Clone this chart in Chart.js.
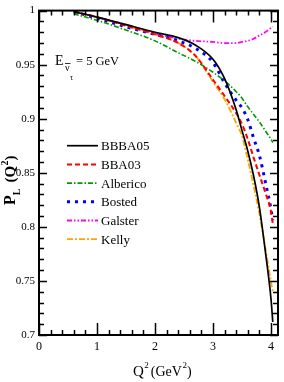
<!DOCTYPE html>
<html>
<head>
<meta charset="utf-8">
<script src="https://cdn.jsdelivr.net/npm/chart.js@4/dist/chart.umd.min.js"></script>
<style>
  html, body { margin: 0; padding: 0; background: #fff; }
  #wrap { width: 284px; height: 382px; }
</style>
</head>
<body>
<div id="wrap"><canvas id="plChart" width="284" height="382"></canvas></div>
<script>
// Q^2 grid (GeV^2) and P_L values
const q2 = [0.6, 1.0, 1.5, 2.0, 2.4, 2.7, 3.0, 3.2, 3.4, 3.5, 3.6, 3.7, 3.8, 3.9, 4.0, 4.03];
const bbba05   = [0.999, 0.994, 0.987, 0.980, 0.975, 0.968, 0.955, 0.937, 0.908, 0.889, 0.870, 0.847, 0.818, 0.778, 0.733, 0.712];
const bba03    = [0.999, 0.994, 0.986, 0.978, 0.970, 0.958, 0.936, 0.921, 0.905, 0.895, 0.881, 0.864, 0.848, 0.832, 0.814, 0.803];
const alberico = [0.997, 0.991, 0.982, 0.972, 0.961, 0.953, 0.943, 0.935, 0.925, 0.919, 0.911, 0.904, 0.897, 0.889, 0.881, 0.878];
const bosted   = [0.999, 0.993, 0.985, 0.978, 0.972, 0.965, 0.952, 0.933, 0.917, 0.910, 0.899, 0.882, 0.866, 0.842, 0.816, 0.806];
const galster  = [0.999, 0.994, 0.987, 0.979, 0.974, 0.972, 0.971, 0.970, 0.970, 0.971, 0.972, 0.974, 0.977, 0.980, 0.984, 0.985];
const kelly    = [0.999, 0.994, 0.986, 0.978, 0.970, 0.958, 0.934, 0.918, 0.896, 0.884, 0.862, 0.838, 0.812, 0.781, 0.749, 0.740];

const modelNames = ['BBBA05', 'BBA03', 'Alberico', 'Bosted', 'Galster', 'Kelly'];
const xTicks = [0, 1, 2, 3, 4];
const yTicks = [0.7, 0.75, 0.8, 0.85, 0.9, 0.95, 1];

const serif = "'Liberation Serif', 'DejaVu Serif', serif";

function pts(vals) {
  return vals.map((v, i) => ({ x: q2[i], y: v }));
}

const styles = [
  { borderColor: '#000000', borderWidth: 1.7, borderDash: [] },
  { borderColor: '#ff0000', borderWidth: 2, borderDash: [5, 3] },
  { borderColor: '#009a00', borderWidth: 1.6, borderDash: [5, 2, 1.5, 2] },
  { borderColor: '#0000ff', borderWidth: 3, borderDash: [3, 5] },
  { borderColor: '#ff00ff', borderWidth: 1.8, borderDash: [5, 2, 1.5, 2, 1.5, 2] },
  { borderColor: '#ffa500', borderWidth: 1.8, borderDash: [6, 2, 2, 2] }
];
const series = [bbba05, bba03, alberico, bosted, galster, kelly];

// frame, inward ticks, legend and labels with sub/superscripts
const decor = {
  id: 'decor',
  afterDraw(chart) {
    const { ctx, chartArea: a, scales: { x, y } } = chart;
    ctx.save();
    ctx.strokeStyle = '#000';
    ctx.lineWidth = 1.5;
    ctx.setLineDash([]);
    ctx.beginPath();
    for (let i = 0; i <= 20; i++) {
      const px = Math.round(x.getPixelForValue(i * 0.2)) + 0.5;
      const len = i % 5 === 0 ? 12 : 5;
      ctx.moveTo(px, a.bottom); ctx.lineTo(px, a.bottom - len);
      ctx.moveTo(px, a.top); ctx.lineTo(px, a.top + len);
    }
    for (let i = 0; i <= 30; i++) {
      const py = Math.round(y.getPixelForValue(0.7 + i * 0.01)) + 0.5;
      const len = i % 5 === 0 ? 8 : 5;
      ctx.moveTo(a.left, py); ctx.lineTo(a.left + len, py);
      ctx.moveTo(a.right, py); ctx.lineTo(a.right - len, py);
    }
    ctx.stroke();
    ctx.lineWidth = 2;
    ctx.strokeRect(a.left, a.top, a.right - a.left, a.bottom - a.top);

    // legend
    ctx.fillStyle = '#000';
    ctx.textBaseline = 'alphabetic';
    chart.data.datasets.forEach((ds, i) => {
      const ly = 145.7 + i * 18.7;
      ctx.beginPath();
      ctx.strokeStyle = ds.borderColor;
      ctx.lineWidth = ds.borderWidth;
      ctx.setLineDash(ds.borderDash);
      ctx.moveTo(67, ly); ctx.lineTo(98, ly);
      ctx.stroke();
      ctx.font = '13px ' + serif;
      ctx.fillText(ds.label, 101, ly + 4.5);
    });
    ctx.setLineDash([]);

    // energy label
    ctx.font = '14px ' + serif;
    ctx.fillText('E', 55, 65);
    ctx.font = '10px ' + serif;
    ctx.fillText('\u03bd', 65, 71);
    ctx.lineWidth = 0.8;
    ctx.strokeStyle = '#000';
    ctx.beginPath(); ctx.moveTo(65, 63.5); ctx.lineTo(70.5, 63.5); ctx.stroke();
    ctx.font = '8px ' + serif;
    ctx.fillText('\u03c4', 70, 80);
    ctx.font = '12.5px ' + serif;
    ctx.fillText('= 5 GeV', 76, 65);

    // x title
    let cx = 133;
    ctx.font = '15px ' + serif;
    ctx.fillText('Q', cx, 376); cx += ctx.measureText('Q').width + 0.5;
    ctx.font = '9px ' + serif;
    ctx.fillText('2', cx, 368); cx += ctx.measureText('2').width + 2;
    ctx.font = '14px ' + serif;
    ctx.fillText('(GeV', cx, 376); cx += ctx.measureText('(GeV').width + 0.5;
    ctx.font = '9px ' + serif;
    ctx.fillText('2', cx, 368); cx += ctx.measureText('2').width;
    ctx.font = '14px ' + serif;
    ctx.fillText(')', cx, 376);

    // y title
    ctx.translate(15, 205);
    ctx.rotate(-Math.PI / 2);
    let tx = 0;
    ctx.font = 'bold 16px ' + serif;
    ctx.fillText('P', tx, 0); tx += ctx.measureText('P').width;
    ctx.font = 'bold 10px ' + serif;
    ctx.fillText('L', tx, 5); tx += ctx.measureText('L').width + 6;
    ctx.font = 'bold 15px ' + serif;
    ctx.fillText('(Q', tx, 0); tx += ctx.measureText('(Q').width + 0.5;
    ctx.font = 'bold 10px ' + serif;
    ctx.fillText('2', tx, -7); tx += ctx.measureText('2').width;
    ctx.font = 'bold 15px ' + serif;
    ctx.fillText(')', tx, 0);
    ctx.restore();
  }
};

const ctx = document.getElementById('plChart').getContext('2d');
const plChart = new Chart(ctx, {
  type: 'line',
  data: {
    datasets: series.map((vals, i) => Object.assign({
      label: modelNames[i],
      data: pts(vals),
      pointRadius: 0,
      fill: false,
      cubicInterpolationMode: 'monotone',
      borderCapStyle: 'butt'
    }, styles[i]))
  },
  options: {
    responsive: false,
    animation: false,
    devicePixelRatio: 1,
    layout: { padding: { top: 7, right: 6, left: 0, bottom: 0 } },
    plugins: {
      legend: { display: false },
      tooltip: { enabled: false }
    },
    scales: {
      x: {
        type: 'linear',
        min: 0,
        max: 4.12,
        grid: { display: false, drawTicks: false },
        border: { display: false },
        afterFit(scale) { scale.height = 47; },
        afterBuildTicks(scale) { scale.ticks = xTicks.map(v => ({ value: v })); },
        ticks: {
          autoSkip: false,
          maxRotation: 0,
          padding: 5,
          color: '#000',
          font: { family: serif, size: 12 },
          callback: v => String(v)
        }
      },
      y: {
        type: 'linear',
        min: 0.7,
        max: 1,
        grid: { display: false, drawTicks: false },
        border: { display: false },
        afterFit(scale) { scale.width = 39; },
        afterBuildTicks(scale) { scale.ticks = yTicks.map(v => ({ value: v })); },
        ticks: {
          autoSkip: false,
          padding: 4,
          color: '#000',
          font: { family: serif, size: 11 },
          callback: v => String(+Number(v).toFixed(2))
        }
      }
    }
  },
  plugins: [decor]
});
</script>
</body>
</html>
